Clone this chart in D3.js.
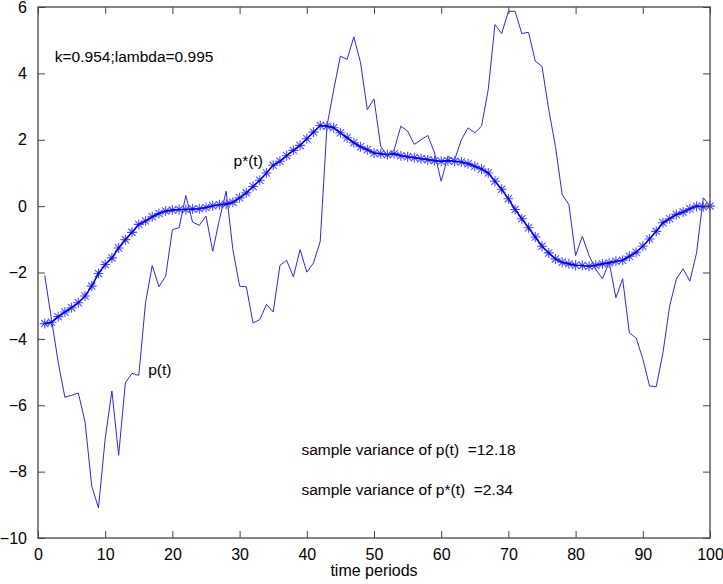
<!DOCTYPE html>
<html>
<head>
<meta charset="utf-8">
<script src="https://cdn.jsdelivr.net/npm/d3@7"></script>
<style>
  body { margin: 0; background: #fff; }
  text { font-family: Arial, "Liberation Sans", sans-serif; fill: #000; white-space: pre; }
</style>
</head>
<body>
<svg class="chart"></svg>
<script>
// p(t) for t = 1..100
var pValues = [
  -2.09, -3.40, -4.70, -5.76, -5.70, -5.63, -6.50, -8.44, -9.09, -7.00,
  -5.57, -7.51, -5.32, -5.04, -5.10, -2.91, -1.79, -2.43, -2.11, -0.71,
  -0.65, 0.32, -0.48, -0.58, -0.30, -1.36, -0.40, 0.45, -1.31, -2.41,
  -2.43, -3.52, -3.42, -2.96, -3.19, -1.79, -1.63, -2.13, -1.31, -1.99,
  -1.71, -1.06, 2.41, 3.50, 4.52, 4.42, 5.10, 4.32, 2.91, 3.23,
  1.80, 1.50, 1.70, 2.41, 2.26, 1.86, 2.00, 2.13, 1.61, 0.75,
  1.50, 1.40, 2.00, 2.36, 2.21, 2.41, 3.51, 5.47, 5.20, 5.87,
  5.87, 5.20, 5.24, 4.37, 4.21, 2.91, 1.80, 0.35, 0.05, -1.49,
  -0.91, -1.49, -1.91, -2.19, -1.69, -2.76, -2.19, -3.82, -3.97, -4.60,
  -5.42, -5.44, -4.42, -3.01, -2.19, -1.89, -2.26, -1.41, 0.25, 0.00
];
// p*(t)
var pStarValues = [
  -3.54, -3.50, -3.33, -3.19, -3.06, -2.91, -2.71, -2.41, -2.03, -1.76,
  -1.56, -1.26, -1.01, -0.79, -0.55, -0.45, -0.32, -0.22, -0.15, -0.12,
  -0.10, -0.10, -0.09, -0.08, -0.04, 0.01, 0.04, 0.06, 0.12, 0.25,
  0.40, 0.59, 0.78, 1.00, 1.23, 1.35, 1.52, 1.68, 1.83, 2.03,
  2.23, 2.43, 2.41, 2.36, 2.21, 2.06, 1.91, 1.79, 1.70, 1.60,
  1.58, 1.55, 1.58, 1.52, 1.49, 1.46, 1.43, 1.40, 1.37, 1.35,
  1.37, 1.35, 1.33, 1.28, 1.20, 1.12, 1.00, 0.75, 0.51, 0.22,
  -0.10, -0.38, -0.65, -0.93, -1.21, -1.41, -1.59, -1.69, -1.74, -1.78,
  -1.79, -1.81, -1.78, -1.74, -1.71, -1.66, -1.63, -1.51, -1.39, -1.21,
  -0.99, -0.76, -0.50, -0.38, -0.25, -0.18, -0.08, 0.00, -0.02, 0.00
];
var xTicks = [0, 10, 20, 30, 40, 50, 60, 70, 80, 90, 100];
var yTicks = [-10, -8, -6, -4, -2, 0, 2, 4, 6];
var labelTop = "k=0.954;lambda=0.995";
var labelVar1 = "sample variance of p(t)  =12.18";
var labelVar2 = "sample variance of p*(t)  =2.34";

var frameWidth = 723;
var frameHeight = 584;
var lmargin = 38, tmargin = 7, rmargin = 13, bmargin = 46;
var width = frameWidth - lmargin - rmargin;
var height = frameHeight - tmargin - bmargin;

var xScale = d3.scaleLinear().domain([0, 100]).range([0, width]);
var yScale = d3.scaleLinear().domain([-10, 6]).range([height, 0]);

var svg = d3.select(".chart")
  .attr("width", frameWidth)
  .attr("height", frameHeight);

var g = svg.append("g")
  .attr("transform", "translate(" + lmargin + "," + tmargin + ")");

var pData = pValues.map(function(v, i) { return { t: i + 1, v: v }; });
var sData = pStarValues.map(function(v, i) { return { t: i + 1, v: v }; });

var line = d3.line()
  .x(function(d) { return xScale(d.t); })
  .y(function(d) { return yScale(d.v); });

// p(t) thin line
g.append("path").datum(pData)
  .attr("d", line)
  .attr("fill", "none")
  .attr("stroke", "#2a2ad8")
  .attr("stroke-width", 1);

// p*(t) star markers, then the line over them
var r = 5, rd = 3.6;
var starPath = "M" + (-r) + ",0L" + r + ",0M0," + (-r) + "L0," + r +
  "M" + (-rd) + "," + (-rd) + "L" + rd + "," + rd +
  "M" + (-rd) + "," + rd + "L" + rd + "," + (-rd);

g.selectAll(".star").data(sData)
  .enter().append("path")
  .attr("class", "star")
  .attr("transform", function(d) { return "translate(" + xScale(d.t) + "," + yScale(d.v) + ")"; })
  .attr("d", starPath)
  .attr("fill", "none")
  .attr("stroke", "#4d4dff")
  .attr("stroke-width", 1.1);

g.append("path").datum(sData)
  .attr("d", line)
  .attr("fill", "none")
  .attr("stroke", "#0000e6")
  .attr("stroke-width", 1.6);

// axes box and ticks (matlab style, ticks inward on all sides)
var axisColor = "#444";
function styleAxis(sel) {
  sel.select(".domain").remove();
  sel.selectAll(".tick line").attr("stroke", axisColor);
  sel.selectAll(".tick text")
    .style("font-size", "16px")
    .attr("fill", "#000");
}

g.append("g")
  .attr("transform", "translate(0," + height + ")")
  .call(d3.axisBottom(xScale).tickValues(xTicks).tickSize(-7).tickPadding(11).tickFormat(d3.format("d")))
  .call(styleAxis);
g.append("g")
  .call(d3.axisTop(xScale).tickValues(xTicks).tickSize(-7).tickFormat(""))
  .call(styleAxis);
g.append("g")
  .call(d3.axisLeft(yScale).tickValues(yTicks).tickSize(-7).tickPadding(11).tickFormat(d3.format("d")))
  .call(styleAxis);
g.append("g")
  .attr("transform", "translate(" + width + ",0)")
  .call(d3.axisRight(yScale).tickValues(yTicks).tickSize(-7).tickFormat(""))
  .call(styleAxis);

g.append("rect")
  .attr("width", width)
  .attr("height", height)
  .attr("fill", "none")
  .attr("stroke", axisColor)
  .attr("stroke-width", 1.3);

// annotations
function note(x, y, s) {
  g.append("text")
    .attr("x", xScale(x))
    .attr("y", yScale(y))
    .style("font-size", "15.5px")
    .text(s);
}
note(2.5, 4.35, labelTop);
note(29.1, 1.2, "p*(t)");
note(16.4, -5.1, "p(t)");
note(39.2, -7.5, labelVar1);
note(39.2, -8.7, labelVar2);

svg.append("text")
  .attr("x", lmargin + width / 2)
  .attr("y", 576)
  .style("text-anchor", "middle")
  .style("font-size", "16px")
  .text("time periods");
</script>
</body>
</html>
